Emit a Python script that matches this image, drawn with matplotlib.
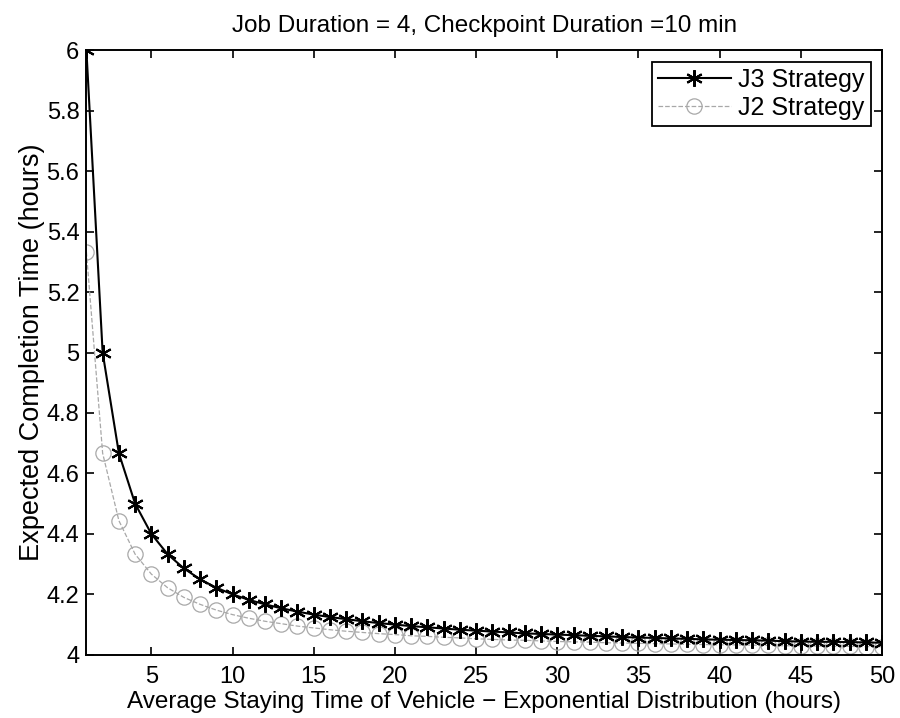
import numpy as np
import matplotlib.pyplot as plt
from matplotlib.ticker import FormatStrFormatter

plt.rcParams['font.family'] = ['Liberation Sans', 'DejaVu Sans']

# average staying time (hours)
stay_time = list(range(1, 51))

# expected completion time (hours)
j3_vals = [6.000, 5.000, 4.667, 4.500, 4.400, 4.333, 4.286, 4.250, 4.222, 4.200,
           4.182, 4.167, 4.154, 4.143, 4.133, 4.125, 4.118, 4.111, 4.105, 4.100,
           4.095, 4.091, 4.087, 4.083, 4.080, 4.077, 4.074, 4.071, 4.069, 4.067,
           4.065, 4.063, 4.061, 4.059, 4.057, 4.056, 4.054, 4.053, 4.051, 4.050,
           4.049, 4.048, 4.047, 4.045, 4.044, 4.043, 4.043, 4.042, 4.041, 4.040]
j2_vals = [5.333, 4.667, 4.444, 4.333, 4.267, 4.222, 4.190, 4.167, 4.148, 4.133,
           4.121, 4.111, 4.103, 4.095, 4.089, 4.083, 4.078, 4.074, 4.070, 4.067,
           4.063, 4.061, 4.058, 4.056, 4.053, 4.051, 4.049, 4.048, 4.046, 4.044,
           4.043, 4.042, 4.040, 4.039, 4.038, 4.037, 4.036, 4.035, 4.034, 4.033,
           4.033, 4.032, 4.031, 4.030, 4.030, 4.029, 4.028, 4.028, 4.027, 4.027]

x_ticks = [5, 10, 15, 20, 25, 30, 35, 40, 45, 50]
y_ticks = [4, 4.2, 4.4, 4.6, 4.8, 5, 5.2, 5.4, 5.6, 5.8, 6]

fig = plt.figure(figsize=(9, 7.18), dpi=100)
ax = fig.add_axes([0.096, 0.088, 0.884, 0.842])

ax.plot(stay_time, j3_vals, color='black', lw=1.5, marker=(6, 2, 0), ms=12,
        mew=1.5, label='J3 Strategy', zorder=3)
ax.plot(stay_time, j2_vals, color='#a8a8a8', lw=0.9, ls='--', marker='o', ms=11,
        mfc='none', mew=0.9, label='J2 Strategy', zorder=2)

ax.set_xlim(1, 50)
ax.set_ylim(4, 6)
ax.set_xticks(x_ticks)
ax.set_yticks(y_ticks)
ax.yaxis.set_major_formatter(FormatStrFormatter('%g'))
ax.tick_params(direction='in', top=True, right=True, labelsize=17, length=6,
               width=1.2)
ax.tick_params(axis='x', pad=8)
ax.tick_params(axis='y', pad=5)
for s in ax.spines.values():
    s.set_linewidth(1.4)

ax.set_title('Job Duration = 4, Checkpoint Duration =10 min', fontsize=17.5, pad=13)
ax.set_xlabel('Average Staying Time of Vehicle \u2212 Exponential Distribution (hours)',
              fontsize=17.5, labelpad=2)
ax.set_ylabel('Expected Completion Time (hours)', fontsize=19.5, labelpad=1)

leg = ax.legend(loc='upper right', fontsize=18, fancybox=False, edgecolor='black',
                framealpha=1, borderaxespad=0.45, handlelength=2.9, borderpad=0.25,
                labelspacing=0.15, handletextpad=0.3)
leg.get_frame().set_linewidth(1.3)

plt.savefig('out.png', dpi=100)
